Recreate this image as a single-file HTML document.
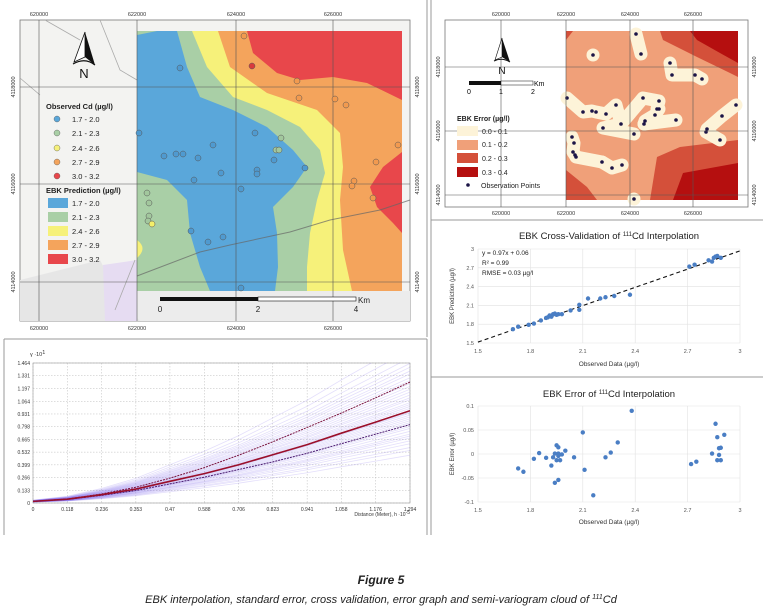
<!DOCTYPE html>
<html><head><meta charset="utf-8">
<style>
html,body{margin:0;padding:0;background:#fff;}
svg{display:block;font-family:"Liberation Sans",sans-serif;}
.t6{font-size:6px;fill:#333;}
.t5{font-size:5.5px;fill:#333;}
</style></head>
<body>
<svg id="fig" width="763" height="613" viewBox="0 0 763 613" xmlns="http://www.w3.org/2000/svg">
<g fill="none" stroke="#999" stroke-width="1">
<path d="M427 0 V337 M4 339 H427 M4 339 V535 M427 339 V535"/>
<path d="M431 0 V535 M431 220 H763 M431 377 H763"/>
</g>

<g>
<rect x="20" y="20" width="390" height="301" fill="#f3f3f1" stroke="#777" stroke-width="0.8"/>
<rect x="137" y="291" width="273" height="30" fill="#ececec"/>
<path d="M100 260 Q120 300 140 321 L20 321 L20 280 Z" fill="#e6e6e6"/>
<path d="M103 265 L137 260 L137 321 L105 321 Z" fill="#e6dcf2"/>
<rect x="137" y="31" width="265" height="260" fill="#a9cfa6"/>
<path d="M192 31 L207 67 L233 97 L267 110 L300 127 L320 150 L325 173 L317 200 L310 233 L307 267 L307 291 L402 291 L402 31 Z" fill="#f6f17a"/>
<path d="M218 31 L230 67 L267 93 L317 110 L340 133 L343 167 L340 200 L343 250 L352 291 L402 291 L402 31 Z" fill="#f4a45c"/>
<path d="M247 31 L253 53 L277 73 L300 80 L333 77 L367 83 L402 100 L402 31 Z" fill="#e8474b"/>
<path d="M402 152 L383 167 L370 187 L377 207 L393 223 L402 233 Z" fill="#e8474b"/>
<path d="M137 240 Q148 248 137 258 Z" fill="#f6f17a"/>
<path d="M137 35 L157 31 L177 31 L187 67 L200 97 L233 110 L267 127 L293 150 L307 167 L293 187 L273 207 L277 233 L278 267 L275 291 L210 291 L200 267 L190 233 L187 200 L167 180 L137 172 Z" fill="#5aa7da"/>
<path d="M137 276 L200 252 L230 245 L290 232 L330 220 L380 210 L410 200" fill="none" stroke="#666" stroke-width="1" opacity="0.7"/>
<path d="M20 78 L40 95 M45 20 L80 40 M100 20 L120 70 L137 80 M115 310 L135 260" fill="none" stroke="#aaa" stroke-width="0.8"/>
<g stroke="#555" stroke-width="0.6">
<line x1="39" y1="20" x2="39" y2="321"/><line x1="137" y1="20" x2="137" y2="321"/><line x1="236" y1="20" x2="236" y2="321"/><line x1="333" y1="20" x2="333" y2="321"/>
<line x1="20" y1="87" x2="410" y2="87"/><line x1="20" y1="184" x2="410" y2="184"/><line x1="20" y1="282" x2="410" y2="282"/>
</g>
<g class="t5" text-anchor="middle">
<text x="39" y="16">620000</text><text x="137" y="16">622000</text><text x="236" y="16">624000</text><text x="333" y="16">626000</text>
<text x="39" y="330">620000</text><text x="137" y="330">622000</text><text x="236" y="330">624000</text><text x="333" y="330">626000</text>
<text transform="translate(15,87) rotate(-90)">4118000</text><text transform="translate(15,184) rotate(-90)">4116000</text><text transform="translate(15,282) rotate(-90)">4114000</text>
<text transform="translate(419,87) rotate(-90)">4118000</text><text transform="translate(419,184) rotate(-90)">4116000</text><text transform="translate(419,282) rotate(-90)">4114000</text>
</g>
<g id="leftPts"></g>
<g>
<path d="M85 32 L74 62 L85 57 Z" fill="#fff" stroke="#111" stroke-width="0.8"/>
<path d="M85 32 L95 65 L85 57 Z" fill="#111"/>
<path d="M73 64 Q85 57 95 65" fill="none" stroke="#111" stroke-width="1.2"/>
<text x="84" y="78" text-anchor="middle" font-size="13" fill="#111">N</text>
</g>
<g font-size="7.5" fill="#222">
<text x="46" y="109" font-weight="bold">Observed Cd (µg/l)</text>
<circle cx="57" cy="119" r="3" fill="#5aa7da" stroke="#555" stroke-width="0.4"/><text x="72" y="122">1.7 - 2.0</text>
<circle cx="57" cy="133" r="3" fill="#a9cfa6" stroke="#555" stroke-width="0.4"/><text x="72" y="136">2.1 - 2.3</text>
<circle cx="57" cy="148" r="3" fill="#f6f17a" stroke="#555" stroke-width="0.4"/><text x="72" y="151">2.4 - 2.6</text>
<circle cx="57" cy="162" r="3" fill="#f4a45c" stroke="#555" stroke-width="0.4"/><text x="72" y="165">2.7 - 2.9</text>
<circle cx="57" cy="176" r="3" fill="#e8474b" stroke="#555" stroke-width="0.4"/><text x="72" y="179">3.0 - 3.2</text>
<text x="46" y="193" font-weight="bold">EBK Prediction (µg/l)</text>
<rect x="48" y="198" width="20" height="10" fill="#5aa7da"/><text x="72" y="206">1.7 - 2.0</text>
<rect x="48" y="212" width="20" height="10" fill="#a9cfa6"/><text x="72" y="220">2.1 - 2.3</text>
<rect x="48" y="226" width="20" height="10" fill="#f6f17a"/><text x="72" y="234">2.4 - 2.6</text>
<rect x="48" y="240" width="20" height="10" fill="#f4a45c"/><text x="72" y="248">2.7 - 2.9</text>
<rect x="48" y="254" width="20" height="10" fill="#e8474b"/><text x="72" y="262">3.0 - 3.2</text>
</g>
<g>
<rect x="160" y="297" width="98" height="4" fill="#111"/>
<rect x="258" y="297" width="98" height="4" fill="#fff" stroke="#111" stroke-width="0.6"/>
<text x="160" y="312" font-size="8" text-anchor="middle" fill="#222">0</text>
<text x="258" y="312" font-size="8" text-anchor="middle" fill="#222">2</text>
<text x="356" y="312" font-size="8" text-anchor="middle" fill="#222">4</text>
<text x="358" y="303" font-size="8" fill="#222">Km</text>
</g>
</g>

<g>
<rect x="445" y="20" width="303" height="187" fill="#fff" stroke="#777" stroke-width="0.8"/>
<rect x="566" y="31" width="172" height="169" fill="#f0a079"/>
<path d="M660 31 L663 40 L697 57 L730 73 L738 77 L738 31 Z" fill="#d4503a"/>
<path d="M690 31 L738 31 L738 63 L720 53 L697 40 Z" fill="#b50f0f"/>
<path d="M650 200 L657 157 L680 147 L738 140 L738 200 Z" fill="#d4503a"/>
<path d="M673 200 L683 173 L738 163 L738 200 Z" fill="#b50f0f"/>
<path d="M566 170 L587 187 L597 200 L566 200 Z" fill="#d4503a"/>
<path d="M566 31 L573 31 L566 40 Z" fill="#d4503a"/>
<g id="rightBlobs" stroke="#fdf3d8" stroke-linecap="round" stroke-linejoin="round" fill="none" stroke-width="13"></g>
<g id="rightPts"></g>
<g stroke="#555" stroke-width="0.6">
<line x1="501" y1="20" x2="501" y2="207"/><line x1="566" y1="20" x2="566" y2="207"/><line x1="630" y1="20" x2="630" y2="207"/><line x1="693" y1="20" x2="693" y2="207"/>
<line x1="445" y1="67" x2="748" y2="67"/><line x1="445" y1="131" x2="748" y2="131"/><line x1="445" y1="195" x2="748" y2="195"/>
</g>
<g class="t5" text-anchor="middle">
<text x="501" y="16">620000</text><text x="566" y="16">622000</text><text x="630" y="16">624000</text><text x="693" y="16">626000</text>
<text x="501" y="215">620000</text><text x="566" y="215">622000</text><text x="630" y="215">624000</text><text x="693" y="215">626000</text>
<text transform="translate(440,67) rotate(-90)">4118000</text><text transform="translate(440,131) rotate(-90)">4116000</text><text transform="translate(440,195) rotate(-90)">4114000</text>
<text transform="translate(756,67) rotate(-90)">4118000</text><text transform="translate(756,131) rotate(-90)">4116000</text><text transform="translate(756,195) rotate(-90)">4114000</text>
</g>
<g>
<path d="M502 38 L495 60 L502 57 Z" fill="#fff" stroke="#111" stroke-width="0.6"/>
<path d="M502 38 L510 62 L502 57 Z" fill="#111"/>
<path d="M494 61 Q502 57 510 62" fill="none" stroke="#111" stroke-width="1"/>
<text x="502" y="74" text-anchor="middle" font-size="10" fill="#111">N</text>
</g>
<g>
<rect x="469" y="81" width="32" height="4" fill="#111"/>
<rect x="501" y="81" width="32" height="4" fill="#fff" stroke="#111" stroke-width="0.5"/>
<text x="469" y="94" font-size="7" text-anchor="middle">0</text><text x="501" y="94" font-size="7" text-anchor="middle">1</text><text x="533" y="94" font-size="7" text-anchor="middle">2</text>
<text x="534" y="86" font-size="7">Km</text>
</g>
<g font-size="7" fill="#222">
<text x="457" y="121" font-weight="bold">EBK Error (µg/l)</text>
<rect x="457" y="126" width="21" height="10" fill="#fdf3d8"/><text x="482" y="134">0.0 - 0.1</text>
<rect x="457" y="140" width="21" height="10" fill="#f0a079"/><text x="482" y="147">0.1 - 0.2</text>
<rect x="457" y="153" width="21" height="10" fill="#d4503a"/><text x="482" y="161">0.2 - 0.3</text>
<rect x="457" y="167" width="21" height="10" fill="#b50f0f"/><text x="482" y="175">0.3 - 0.4</text>
<circle cx="468" cy="185" r="1.8" fill="#1b1446"/><text x="481" y="188">Observation Points</text>
</g>
</g>

<g id="cv">
<text x="609" y="239" text-anchor="middle" font-size="9.5" fill="#222">EBK Cross-Validation of <tspan font-size="6" dy="-3">111</tspan><tspan dy="3">Cd Interpolation</tspan></text>
<text transform="translate(454,296) rotate(-90)" text-anchor="middle" font-size="6" fill="#333">EBK Prediction (µg/l)</text>
<text x="609" y="366" text-anchor="middle" font-size="6.5" fill="#333">Observed Data (µg/l)</text>
<text x="482" y="255" font-size="6.5" fill="#222">y = 0.97x + 0.06</text>
<text x="482" y="265" font-size="6.5" fill="#222">R² = 0.99</text>
<text x="482" y="275" font-size="6.5" fill="#222">RMSE = 0.03 µg/l</text>
</g>
<g id="err">
<text x="609" y="397" text-anchor="middle" font-size="9.5" fill="#222">EBK Error of <tspan font-size="6" dy="-3">111</tspan><tspan dy="3">Cd Interpolation</tspan></text>
<text transform="translate(454,454) rotate(-90)" text-anchor="middle" font-size="6" fill="#333">EBK Error (µg/l)</text>
<text x="609" y="524" text-anchor="middle" font-size="6.5" fill="#333">Observed Data (µg/l)</text>
</g>
<g id="sv">
<text x="30" y="356" font-size="5.5" fill="#333">γ ·10<tspan dy="-2">1</tspan></text>
<text x="410" y="516" text-anchor="end" font-size="5" fill="#333">Distance (Meter), h ·10<tspan dy="-2">-5</tspan></text>
</g>

<text x="381" y="584" text-anchor="middle" font-size="12" font-weight="bold" font-style="italic" fill="#222">Figure 5</text>
<text x="381" y="603" text-anchor="middle" font-size="11" font-style="italic" fill="#222">EBK interpolation, standard error, cross validation, error graph and semi-variogram cloud of <tspan font-size="7" dy="-4">111</tspan><tspan dy="4">Cd</tspan></text>
</svg>
<script>
const NS='http://www.w3.org/2000/svg';
function mk(tag,attrs,parent){const e=document.createElementNS(NS,tag);for(const k in attrs)e.setAttribute(k,attrs[k]);parent.appendChild(e);return e;}

const leftPtX=[180,139,164,176,183,198,213,221,194,241,255,257,257,274,305,281,276,279,244,252,297,299,335,346,398,376,354,352,373,147,149,149,148,152,191,208,223,241];
const leftPtY=[68,133,156,154,154,158,145,173,180,189,133,170,174,160,168,138,150,150,36,66,81,98,99,105,145,162,181,186,198,193,203,216,221,224,231,242,237,288];
const leftPtClass=[0,0,0,0,0,0,0,0,0,0,0,0,0,0,0,1,1,1,3,4,3,3,3,3,3,3,3,3,3,1,1,1,1,2,0,0,0,0];
const classColors=['#4f9ad0','#a2c79d','#f3ef6a','#f29a4f','#d93a3d'];
const lp=document.getElementById('leftPts');
for(let i=0;i<leftPtX.length;i++){
  const c=mk('circle',{cx:leftPtX[i],cy:leftPtY[i],r:3,fill:classColors[leftPtClass[i]],stroke:'#555','stroke-width':0.5},lp);
  
  
}
const rightPtX=[636,641,593,670,672,695,702,567,583,592,596,606,616,621,603,634,643,659,657,659,655,645,644,676,736,722,707,706,720,572,574,573,575,576,602,612,622,634];
const rightPtY=[34,54,55,63,75,75,79,98,112,111,112,114,105,124,128,134,98,101,109,109,115,121,124,120,105,116,129,132,140,137,143,152,155,157,162,168,165,199];
const clusters=[[0,1],[2,2],[3,4,5,6],[7,8,9,10,11,12,13,14,15],[13,16,17,18,19,20,21,22],[22,23],[24,25,26,27,28],[29,30,31,32,33,34],[34,35,36],[37,37]];
const rb=document.getElementById('rightBlobs');
clusters.forEach(cl=>{
  const pl=mk('polyline',{points:cl.map(i=>rightPtX[i]+','+rightPtY[i]).join(' ')},rb);
  
  
});
const rp=document.getElementById('rightPts');
for(let i=0;i<rightPtX.length;i++){
  const c=mk('circle',{cx:rightPtX[i],cy:rightPtY[i],r:1.8,fill:'#1b1446'},rp);
  
  
}

const cvObserved=[1.70,1.73,1.79,1.82,1.86,1.89,1.90,1.91,1.92,1.93,1.94,1.95,1.96,1.98,2.03,2.08,2.08,2.13,2.20,2.23,2.28,2.37,2.71,2.74,2.82,2.84,2.85,2.86,2.87,2.89];
const cvPredicted=[1.72,1.76,1.79,1.81,1.86,1.90,1.91,1.94,1.92,1.96,1.97,1.95,1.96,1.96,2.02,2.03,2.11,2.21,2.21,2.23,2.25,2.27,2.72,2.75,2.82,2.80,2.86,2.88,2.89,2.86];
const cvTicks=[1.5,1.8,2.1,2.4,2.7,3];
const cvTickLabels=['1.5','1.8','2.1','2.4','2.7','3'];
const fitSlope=0.97, fitIntercept=0.06;

function scatterAxes(g,x0,x1,y0,y1,xmin,xmax,ymin,ymax){
  return {x:v=>x0+(v-xmin)/(xmax-xmin)*(x1-x0), y:v=>y1-(v-ymin)/(ymax-ymin)*(y1-y0)};
}
(function(){
  const g=document.getElementById('cv');
  const X=478,X1=740,Y=249,Y1=343;
  const a=scatterAxes(g,X,X1,Y,Y1,1.5,3,1.5,3);
  cvTicks.forEach((t,i)=>{
    const gl=mk('line',{x1:X,x2:X1,y1:a.y(t),y2:a.y(t),stroke:'#e2e2e2','stroke-width':0.6},g);
    
    const yl=mk('text',{x:X-4,y:a.y(t)+2,'text-anchor':'end','font-size':5.5,fill:'#555'},g);yl.textContent=cvTickLabels[i];
    
    const vl=mk('line',{x1:a.x(t),x2:a.x(t),y1:Y,y2:Y1,stroke:'#e2e2e2','stroke-width':0.6},g);
    
    const xl=mk('text',{x:a.x(t),y:Y1+10,'text-anchor':'middle','font-size':5.5,fill:'#555'},g);xl.textContent=cvTickLabels[i];
    
  });
  const fl=mk('line',{x1:a.x(1.5),y1:a.y(fitSlope*1.5+fitIntercept),x2:a.x(3),y2:a.y(fitSlope*3+fitIntercept),stroke:'#111','stroke-width':1.1,'stroke-dasharray':'4,3'},g);
  
  for(let i=0;i<cvObserved.length;i++){
    const c=mk('circle',{cx:a.x(cvObserved[i]),cy:a.y(cvPredicted[i]),r:2.2,fill:'#4a7ec4'},g);
    
  }
})();

const errObserved=[1.73,1.76,1.82,1.85,1.89,1.92,1.93,1.94,1.94,1.95,1.95,1.96,1.96,1.96,1.96,1.97,1.98,2.00,2.05,2.10,2.11,2.16,2.23,2.26,2.30,2.38,2.72,2.75,2.84,2.86,2.87,2.87,2.88,2.89,2.88,2.89,2.91];
const errValues=[-0.030,-0.037,-0.010,0.002,-0.008,-0.024,-0.007,0.001,-0.060,-0.013,0.018,-0.004,-0.054,0.014,0.001,-0.013,-0.001,0.007,-0.007,0.045,-0.033,-0.086,-0.007,0.003,0.024,0.090,-0.021,-0.016,0.001,0.063,0.035,-0.013,0.012,0.013,-0.002,-0.013,0.040];
const errYTicks=[-0.1,-0.05,0,0.05,0.1];
const errYTickLabels=['-0.1','-0.05','0','0.05','0.1'];
const errXTicks=[1.5,1.8,2.1,2.4,2.7,3];
const errXTickLabels=['1.5','1.8','2.1','2.4','2.7','3'];
(function(){
  const g=document.getElementById('err');
  const X=478,X1=740,Y=406,Y1=502;
  const a=scatterAxes(g,X,X1,Y,Y1,1.5,3,-0.1,0.1);
  errYTicks.forEach((t,i)=>{
    const gl=mk('line',{x1:X,x2:X1,y1:a.y(t),y2:a.y(t),stroke:'#e2e2e2','stroke-width':0.6},g);
    
    const yl=mk('text',{x:X-4,y:a.y(t)+2,'text-anchor':'end','font-size':5.5,fill:'#555'},g);yl.textContent=errYTickLabels[i];
    
  });
  errXTicks.forEach((t,i)=>{
    const vl=mk('line',{x1:a.x(t),x2:a.x(t),y1:Y,y2:Y1,stroke:'#e2e2e2','stroke-width':0.6},g);
    
    const xl=mk('text',{x:a.x(t),y:Y1+10,'text-anchor':'middle','font-size':5.5,fill:'#555'},g);xl.textContent=errXTickLabels[i];
    
  });
  for(let i=0;i<errObserved.length;i++){
    const c=mk('circle',{cx:a.x(errObserved[i]),cy:a.y(errValues[i]),r:2.2,fill:'#4a7ec4'},g);
    
  }
})();

const svDistances=[0,0.118,0.236,0.353,0.47,0.588,0.706,0.823,0.941,1.058,1.176,1.294];
const svXTickLabels=['0','0.118','0.236','0.353','0.47','0.588','0.706','0.823','0.941','1.058','1.176','1.294'];
const svYTicks=[0,0.133,0.266,0.399,0.532,0.665,0.798,0.931,1.064,1.197,1.331,1.464];
const svYTickLabels=['0','0.133','0.266','0.399','0.532','0.665','0.798','0.931','1.064','1.197','1.331','1.464'];
const svMedian=[0.017,0.040,0.087,0.146,0.227,0.307,0.400,0.505,0.610,0.730,0.846,0.965];
const svUpper=[0.017,0.042,0.095,0.165,0.260,0.370,0.500,0.640,0.790,0.940,1.100,1.265];
const svLower=[0.017,0.038,0.080,0.130,0.200,0.270,0.350,0.430,0.520,0.620,0.720,0.820];
const svCloudEnds=[0.50,0.55,0.58,0.62,0.65,0.68,0.70,0.72,0.75,0.78,0.80,0.82,0.84,0.86,0.88,0.90,0.92,0.94,0.95,0.97,0.99,1.01,1.03,1.05,1.08,1.10,1.13,1.16,1.19,1.22,1.25,1.28,1.31,1.35,1.38,1.42,1.46,1.52,1.60,1.70];
(function(){
  const g=document.getElementById('sv');
  const X=33,X1=410,Y=363,Y1=503;
  const a=scatterAxes(g,X,X1,Y,Y1,0,1.294,0,1.464);
  svYTicks.forEach((t,i)=>{
    const gl=mk('line',{x1:X,x2:X1,y1:a.y(t),y2:a.y(t),stroke:'#bbb','stroke-width':0.5,'stroke-dasharray':'1.5,1.5'},g);
    
    const yl=mk('text',{x:X-3,y:a.y(t)+2,'text-anchor':'end','font-size':5,fill:'#333'},g);yl.textContent=svYTickLabels[i];
    
  });
  svDistances.forEach((t,i)=>{
    const vl=mk('line',{x1:a.x(t),x2:a.x(t),y1:Y,y2:Y1,stroke:'#bbb','stroke-width':0.5,'stroke-dasharray':'1.5,1.5'},g);
    
    const xl=mk('text',{x:a.x(t),y:Y1+8,'text-anchor':'middle','font-size':5,fill:'#333'},g);xl.textContent=svXTickLabels[i];
    
  });
  const frame=mk('rect',{x:X,y:Y,width:X1-X,height:Y1-Y,fill:'none',stroke:'#999','stroke-width':0.6},g);
  
  const mEnd=svMedian[svMedian.length-1];
  const clip=mk('clipPath',{id:'svclip'},g);mk('rect',{x:X,y:Y,width:X1-X,height:Y1-Y},clip);
  const cg=mk('g',{'clip-path':'url(#svclip)'},g);
  svCloudEnds.forEach(e=>{
    const pts=svDistances.map((d,i)=>a.x(d)+','+a.y(svMedian[i]*e/mEnd)).join(' ');
    const pl=mk('polyline',{points:pts,fill:'none',stroke:'#6a4ee8','stroke-width':0.8,opacity:0.18},cg);
    
  });
  const line=(arr,col,w,dash,name)=>{
    const pl=mk('polyline',{points:svDistances.map((d,i)=>a.x(d)+','+a.y(arr[i])).join(' '),fill:'none',stroke:col,'stroke-width':w},cg);
    if(dash)pl.setAttribute('stroke-dasharray',dash);
    
  };
  line(svUpper,'#7a1440',1,'2,1','upper-quantile-curve');
  line(svLower,'#4a1a70',1,'2,1','lower-quantile-curve');
  line(svMedian,'#9a0f2a',1.6,null,'median-curve');
})();
</script>
</body></html>
